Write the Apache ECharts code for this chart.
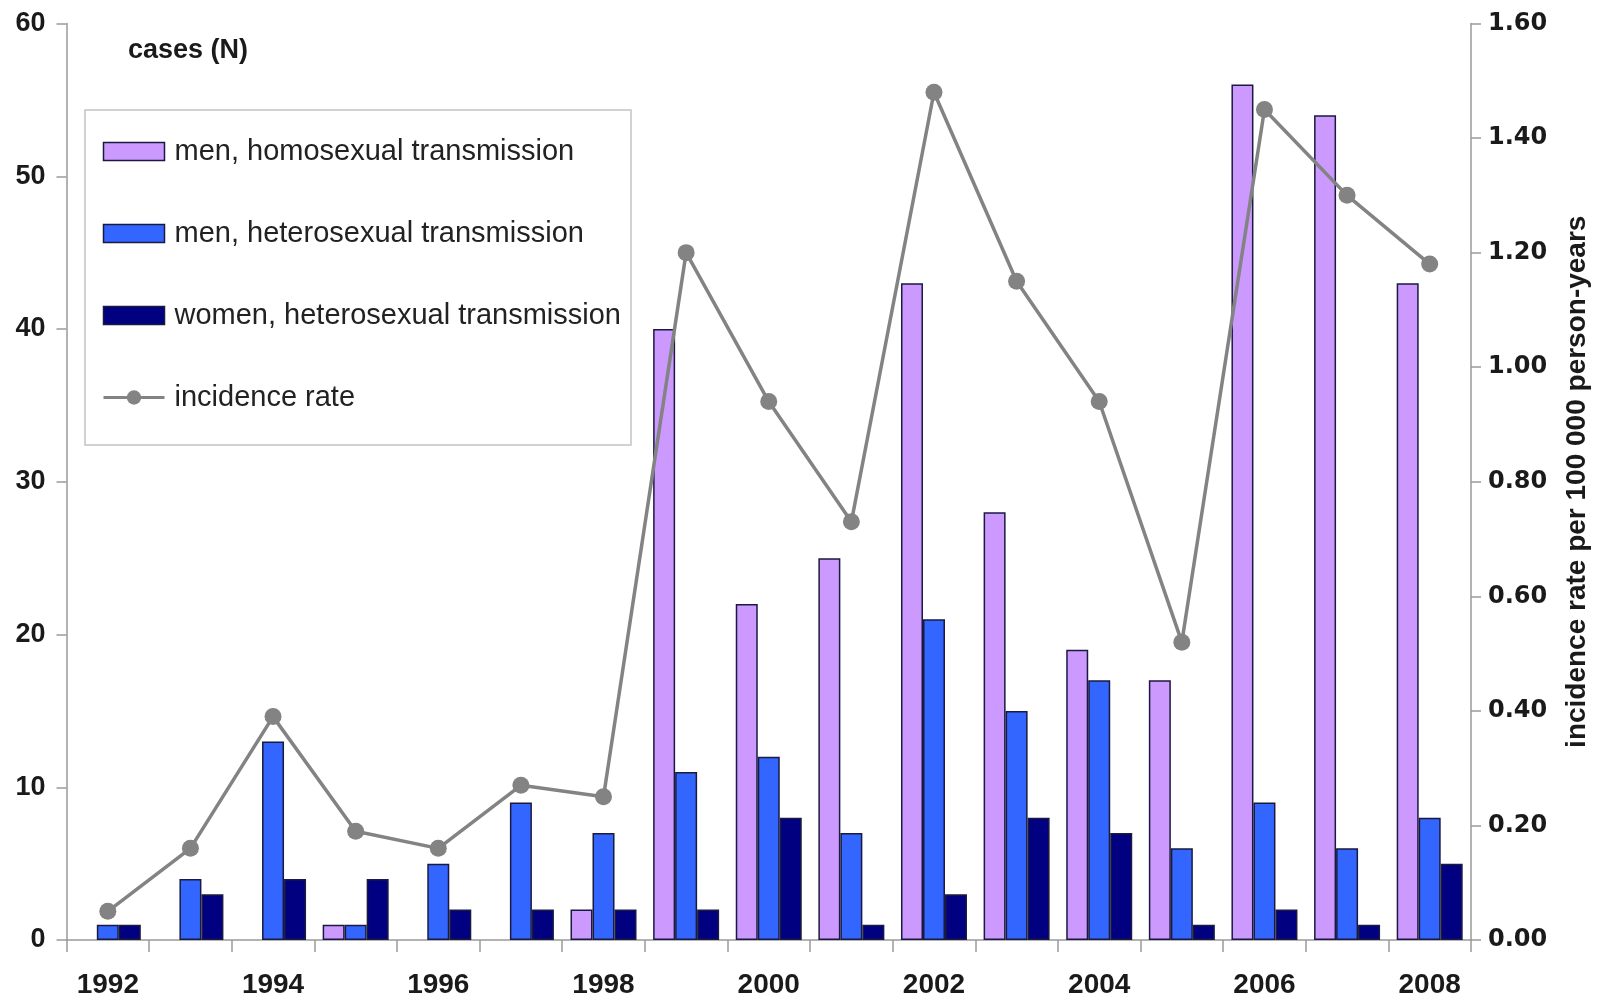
<!DOCTYPE html>
<html>
<head>
<meta charset="utf-8">
<script src="https://cdn.jsdelivr.net/npm/echarts@6/dist/echarts.min.js"></script>
<style>
html,body{margin:0;padding:0;background:#fff;}
#c{width:1605px;height:999px;}
</style>
</head>
<body>
<div id="c"></div>
<script>
const years = ['1992','1993','1994','1995','1996','1997','1998','1999','2000','2001','2002','2003','2004','2005','2006','2007','2008'];
const menHomo = [0,0,0,1,0,0,2,40,22,25,43,28,19,17,56,54,43];
const menHetero = [1,4,13,1,5,9,7,11,12,7,21,15,17,6,9,6,8];
const womenHetero = [1,3,4,4,2,2,2,2,8,1,3,8,7,1,2,1,5];
const incidence = [0.05,0.16,0.39,0.19,0.16,0.27,0.25,1.20,0.94,0.73,1.48,1.15,0.94,0.52,1.45,1.30,1.18];
const leftTicks = {min:0,max:60,interval:10};
const rightTicks = {min:0,max:1.6,interval:0.2};

// zero-count bars have no visible outline in the original
function barData(arr){
  return arr.map(function(v){ return v === 0 ? {value:0, itemStyle:{borderWidth:0}} : v; });
}

const chart = echarts.init(document.getElementById('c'), null, {renderer:'canvas'});
const axisGrey = '#9a9a9a';
const barBorder = {borderColor:'#1a1a40', borderWidth:1.5};
chart.setOption({
  animation:false,
  backgroundColor:'#ffffff',
  title:{
    text:'cases (N)', left:123, top:32,
    textStyle:{fontFamily:'Liberation Sans', fontWeight:'bold', fontSize:27, color:'#1a1a1a'}
  },
  grid:{left:66.5, right:134, top:23.5, bottom:59, containLabel:false},
  legend:{
    orient:'vertical', left:85, top:110,
    padding:[27,10,33,17],
    itemWidth:61, itemHeight:18, itemGap:53,
    borderColor:'#c4c4c4', borderWidth:1.5, backgroundColor:'#fff',
    textStyle:{fontFamily:'Liberation Sans', fontSize:29, color:'#222', padding:[0,0,0,5]},
    data:[
      {name:'men, homosexual transmission', icon:'rect', itemStyle:{borderWidth:1.5}},
      {name:'men, heterosexual transmission', icon:'rect', itemStyle:{borderWidth:1.5}},
      {name:'women, heterosexual transmission', icon:'rect', itemStyle:{borderWidth:1.5}},
      {name:'incidence rate', lineStyle:{width:3}}
    ]
  },
  xAxis:{
    type:'category', data:years, boundaryGap:true,
    axisLine:{lineStyle:{color:axisGrey, width:1.5}},
    axisTick:{show:true, length:12, lineStyle:{color:axisGrey, width:1.5}, interval:0},
    axisLabel:{interval:1, margin:31, fontFamily:'Liberation Sans', fontWeight:'bold', fontSize:28, color:'#1a1a1a'}
  },
  yAxis:[
    {
      type:'value', min:leftTicks.min, max:leftTicks.max, interval:leftTicks.interval,
      splitLine:{show:false},
      axisLine:{show:true, lineStyle:{color:axisGrey, width:1.5}},
      axisTick:{show:true, length:10, lineStyle:{color:axisGrey, width:1.5}},
      axisLabel:{margin:21, fontFamily:'Liberation Sans', fontWeight:'bold', fontSize:27, color:'#1a1a1a'}
    },
    {
      type:'value', position:'right', min:rightTicks.min, max:rightTicks.max, interval:rightTicks.interval,
      splitLine:{show:false},
      axisLine:{show:true, lineStyle:{color:axisGrey, width:1.5}},
      axisTick:{show:true, length:10, lineStyle:{color:axisGrey, width:1.5}},
      axisLabel:{margin:17, fontFamily:'DejaVu Sans', fontWeight:'bold', fontSize:24, color:'#1a1a1a',
        formatter:function(v){return v.toFixed(2);}},
      name:'incidence rate per 100 000 person-years', nameLocation:'middle', nameRotate:90, nameGap:92,
      nameTextStyle:{fontFamily:'Liberation Sans', fontWeight:'bold', fontSize:28, color:'#1a1a1a'}
    }
  ],
  series:[
    {name:'men, homosexual transmission', type:'bar', data:barData(menHomo), barWidth:22, barGap:'0%',
      itemStyle:Object.assign({color:'#cc99ff'}, barBorder)},
    {name:'men, heterosexual transmission', type:'bar', data:barData(menHetero), barWidth:22, barGap:'0%',
      itemStyle:Object.assign({color:'#3366ff'}, barBorder)},
    {name:'women, heterosexual transmission', type:'bar', data:barData(womenHetero), barWidth:22, barGap:'0%',
      itemStyle:Object.assign({color:'#000080'}, barBorder)},
    {name:'incidence rate', type:'line', yAxisIndex:1, data:incidence,
      symbol:'circle', symbolSize:17, z:5,
      lineStyle:{color:'#838383', width:3.5},
      itemStyle:{color:'#838383'}}
  ]
});
</script>
</body>
</html>
